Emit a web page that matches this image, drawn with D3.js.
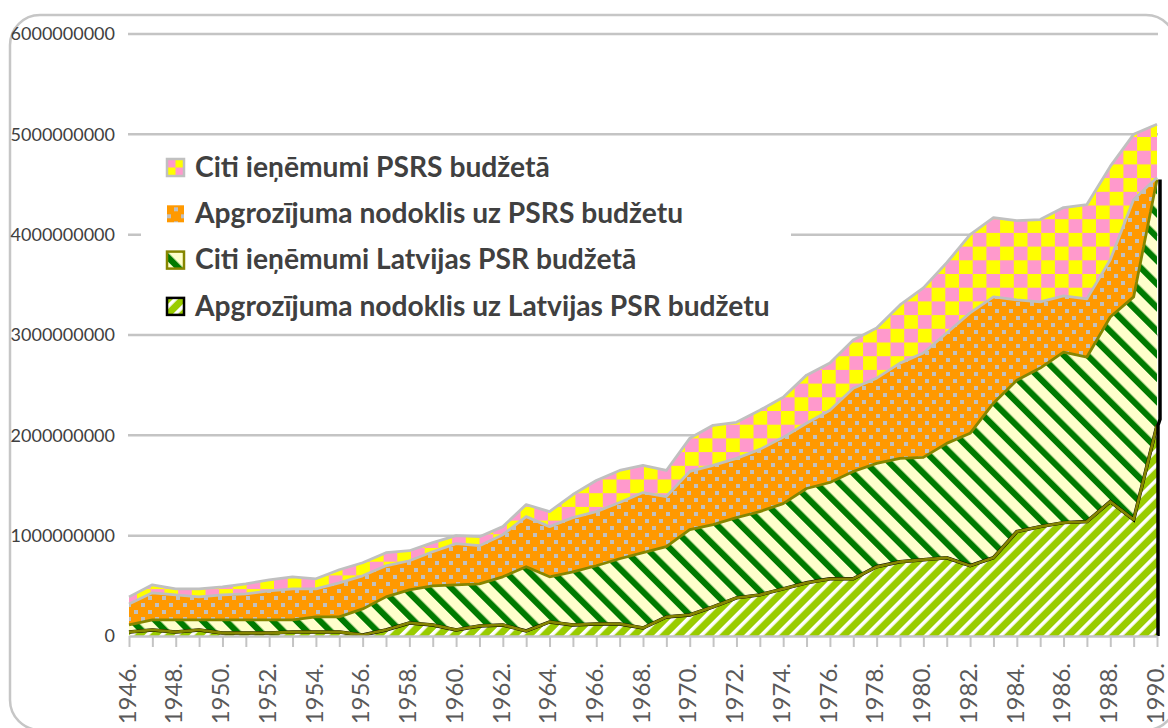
<!DOCTYPE html>
<html>
<head>
<meta charset="utf-8">
<script src="https://cdn.jsdelivr.net/npm/d3@7"></script>
<style>
  body { margin: 0; background: #fff; }
  svg { display: block; font-family: Lato, "Open Sans", sans-serif; }
</style>
</head>
<body>
<svg id="chart" width="1168" height="728"></svg>
<script>
// years on the x axis
var years = [1946, 1947, 1948, 1949, 1950, 1951, 1952, 1953, 1954, 1955,
             1956, 1957, 1958, 1959, 1960, 1961, 1962, 1963, 1964, 1965,
             1966, 1967, 1968, 1969, 1970, 1971, 1972, 1973, 1974, 1975,
             1976, 1977, 1978, 1979, 1980, 1981, 1982, 1983, 1984, 1985,
             1986, 1987, 1988, 1989, 1990];

// values in millions
var apgrLatv = [40, 60, 40, 60, 30, 30, 30, 40, 40, 40,
                10, 60, 130, 110, 60, 100, 110, 50, 140, 110,
                120, 120, 80, 190, 210, 290, 380, 410, 470, 530,
                570, 570, 690, 740, 760, 780, 700, 780, 1040, 1090,
                1130, 1140, 1340, 1160, 2100];
var citiLatv = [70, 100, 120, 100, 130, 130, 130, 120, 150, 150,
                260, 330, 330, 390, 450, 420, 480, 640, 450, 530,
                580, 650, 750, 700, 850, 820, 800, 830, 850, 940,
                960, 1070, 1030, 1030, 1020, 1140, 1320, 1540, 1510, 1580,
                1700, 1640, 1840, 2220, 2450];
var apgrPSRS = [210, 270, 250, 230, 250, 260, 290, 310, 280, 340,
                330, 310, 290, 340, 410, 380, 420, 500, 500, 540,
                540, 560, 600, 500, 580, 590, 590, 620, 660, 650,
                720, 830, 850, 950, 1040, 1100, 1200, 1060, 800, 660,
                560, 580, 570, 970, 20];
var citiPSRS = [70, 80, 60, 80, 80, 100, 110, 120, 100, 130,
                130, 130, 100, 90, 80, 90, 80, 120, 150, 230,
                310, 320, 270, 260, 330, 400, 360, 390, 400, 480,
                470, 480, 500, 580, 650, 700, 780, 790, 790, 820,
                880, 940, 930, 650, 530];

var yTicks = [0, 1000000000, 2000000000, 3000000000, 4000000000, 5000000000, 6000000000];

var seriesNames = ['Apgrozījuma nodoklis uz Latvijas PSR budžetu',
                   'Citi ieņēmumi Latvijas PSR budžetā',
                   'Apgrozījuma nodoklis uz PSRS budžetu',
                   'Citi ieņēmumi PSRS budžetā'];

var keys = ['apgrLatv', 'citiLatv', 'apgrPSRS', 'citiPSRS'];
var table = years.map(function(yr, i) {
  return { year: yr,
           apgrLatv: apgrLatv[i] * 1e6, citiLatv: citiLatv[i] * 1e6,
           apgrPSRS: apgrPSRS[i] * 1e6, citiPSRS: citiPSRS[i] * 1e6 };
});

var svg = d3.select('#chart');
var defs = svg.append('defs');

// pattern fills
var p = defs.append('pattern').attr('id', 'pat-limeStripe')
  .attr('patternUnits', 'userSpaceOnUse').attr('width', 10.6).attr('height', 10.6)
  .attr('patternTransform', 'rotate(45)');
p.append('rect').attr('width', 10.6).attr('height', 10.6).attr('fill', '#99cc00');
p.append('rect').attr('width', 3.6).attr('height', 10.6).attr('fill', '#ffffff');

p = defs.append('pattern').attr('id', 'pat-greenStripe')
  .attr('patternUnits', 'userSpaceOnUse').attr('width', 16.6).attr('height', 16.6)
  .attr('patternTransform', 'rotate(-45)');
p.append('rect').attr('width', 16.6).attr('height', 16.6).attr('fill', '#ffffcc');
p.append('rect').attr('width', 6.2).attr('height', 16.6).attr('fill', '#007a00');

p = defs.append('pattern').attr('id', 'pat-dots')
  .attr('patternUnits', 'userSpaceOnUse').attr('width', 14).attr('height', 14);
p.append('rect').attr('width', 14).attr('height', 14).attr('fill', '#ff9900');
p.append('rect').attr('x', 1).attr('y', 1).attr('width', 4).attr('height', 4).attr('fill', '#c0c0c0');
p.append('rect').attr('x', 8).attr('y', 8).attr('width', 4).attr('height', 4).attr('fill', '#c0c0c0');

p = defs.append('pattern').attr('id', 'pat-checker')
  .attr('patternUnits', 'userSpaceOnUse').attr('width', 27.4).attr('height', 27.4);
p.append('rect').attr('width', 27.4).attr('height', 27.4).attr('fill', '#ff99cc');
p.append('rect').attr('x', 13.7).attr('width', 13.7).attr('height', 13.7).attr('fill', '#ffff00');
p.append('rect').attr('y', 13.7).attr('width', 13.7).attr('height', 13.7).attr('fill', '#ffff00');

p = defs.append('pattern').attr('id', 'leg-checker')
  .attr('patternContentUnits', 'objectBoundingBox').attr('width', 1).attr('height', 1);
p.append('rect').attr('width', 1).attr('height', 1).attr('fill', '#ff99cc');
p.append('rect').attr('x', 0.5).attr('width', 0.5).attr('height', 0.5).attr('fill', '#ffff00');
p.append('rect').attr('y', 0.5).attr('width', 0.5).attr('height', 0.5).attr('fill', '#ffff00');

var fills = ['url(#pat-limeStripe)', 'url(#pat-greenStripe)', 'url(#pat-dots)', 'url(#pat-checker)'];
var topLines = ['#868600', '#868600', '#c0c0c0', '#c0c0c0'];

// frame
svg.append('rect').attr('x', 10).attr('y', 15).attr('width', 1166).attr('height', 715)
  .attr('rx', 30).attr('fill', 'none').attr('stroke', '#c6c6c6').attr('stroke-width', 2.5);

var x = d3.scalePoint().domain(years).range([129, 1157]);
var y = d3.scaleLinear().domain([0, 6000000000]).range([636, 34]);

// grid + y labels
svg.append('g').selectAll('line').data(yTicks.slice(1)).enter().append('line')
  .attr('x1', 128).attr('x2', 1158)
  .attr('y1', function(d) { return y(d); }).attr('y2', function(d) { return y(d); })
  .attr('stroke', '#c4c4c4').attr('stroke-width', 2.5);

svg.append('g').selectAll('text').data(yTicks).enter().append('text')
  .attr('x', 115).attr('y', function(d) { return y(d); })
  .attr('dy', '0.36em').attr('text-anchor', 'end')
  .attr('fill', '#404040').style('font-size', '18px')
  .text(function(d) { return d; });

// stacked areas
var stack = d3.stack().keys(keys)(table);
var area = d3.area()
  .x(function(d) { return x(d.data.year); })
  .y0(function(d) { return y(d[0]); })
  .y1(function(d) { return y(d[1]); });
var topLine = d3.line()
  .x(function(d) { return x(d.data.year); })
  .y(function(d) { return y(d[1]); });

var layers = svg.append('g');
layers.selectAll('path.area').data(stack).enter().append('path')
  .attr('class', 'area')
  .attr('d', area)
  .attr('fill', function(d, i) { return fills[i]; });

// black outline of the bottom series, then the top lines
layers.append('path').datum(stack[0]).attr('d', topLine)
  .attr('fill', 'none').attr('stroke', '#000').attr('stroke-width', 3.5);
layers.selectAll('path.top').data(stack).enter().append('path')
  .attr('class', 'top')
  .attr('d', topLine)
  .attr('fill', 'none')
  .attr('stroke', function(d, i) { return topLines[i]; })
  .attr('stroke-width', 2.8).attr('stroke-linejoin', 'round');

// right edge of the Latvian series (black border)
var last = table.length - 1;
var xr = x(years[last]);
var c1 = stack[0][last][1], c2 = stack[1][last][1];
layers.append('path')
  .attr('d', 'M' + (xr + 1) + ',' + y(0) + 'L' + (xr + 1) + ',' + y(c1) +
             'L' + (xr + 3) + ',' + (y(c1) - 6) + 'L' + (xr + 3) + ',' + y(c2))
  .attr('fill', 'none').attr('stroke', '#000').attr('stroke-width', 3.5);

// x axis
var xAxis = svg.append('g').attr('transform', 'translate(0,' + y(0) + ')')
  .call(d3.axisBottom(x).tickSize(11).tickSizeOuter(0)
        .tickFormat(function(d) { return d % 2 === 0 ? d + '.' : ''; }));
xAxis.select('.domain').attr('stroke', '#c4c4c4').attr('stroke-width', 2.5);
xAxis.selectAll('.tick line').attr('stroke', '#c4c4c4').attr('stroke-width', 2);
xAxis.selectAll('.tick text')
  .attr('transform', 'rotate(-90)').attr('x', -27).attr('y', 0).attr('dy', '0.26em')
  .style('text-anchor', 'end').style('font-size', '24px').style('font-family', 'Lato, sans-serif')
  .attr('fill', '#595959');

// legend
var legend = svg.append('g');
legend.append('rect').attr('x', 141).attr('y', 140).attr('width', 650).attr('height', 192).attr('fill', '#fff');
var legOrder = [3, 2, 1, 0];
var legFill = ['url(#pat-limeStripe)', 'url(#pat-greenStripe)', 'url(#pat-dots)', 'url(#leg-checker)'];
var legStroke = ['#000', '#868600', 'none', '#c0c0c0'];
var items = legend.selectAll('g.item').data(legOrder).enter().append('g')
  .attr('class', 'item')
  .attr('transform', function(d, i) { return 'translate(166,' + (167 + i * 46.3) + ')'; });
items.append('rect').attr('x', 1).attr('y', -8).attr('width', 17).attr('height', 17)
  .attr('fill', function(d) { return legFill[d]; })
  .attr('stroke', function(d) { return legStroke[d]; }).attr('stroke-width', 2.5);
var legText = items.append('text').attr('x', 29).attr('y', 0).attr('dy', '0.35em')
  .attr('fill', '#404040').style('font-weight', 'bold').style('font-size', '26px')
  .text(function(d) { return seriesNames[d]; });
var w = d3.max(legText.nodes(), function(n) { return n.getComputedTextLength(); });
legText.style('font-size', (26 * 575 / w) + 'px');
</script>
</body>
</html>
